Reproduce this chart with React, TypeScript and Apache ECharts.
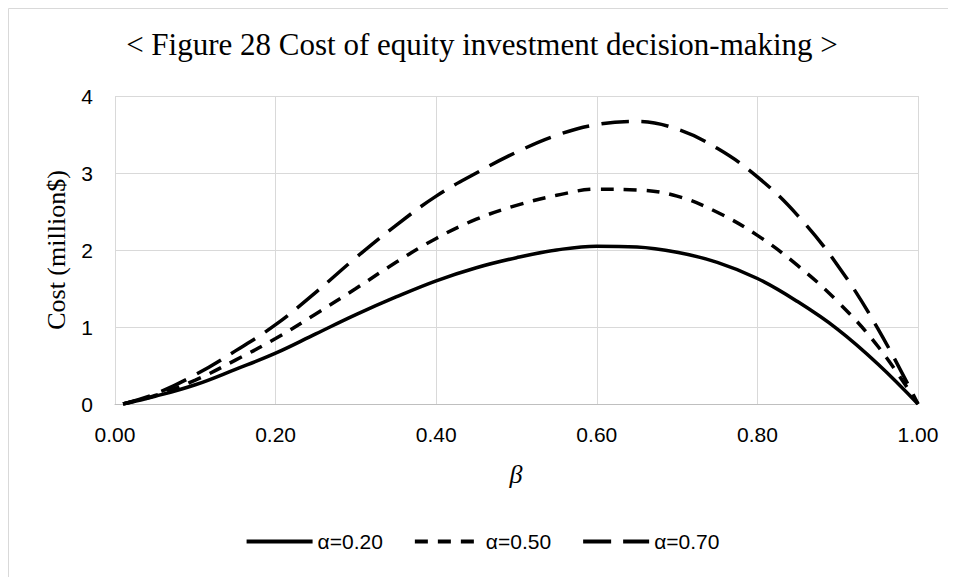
import React, { useEffect, useRef } from "react";
import * as echarts from "echarts";

const betas = [0.01, 0.05, 0.1, 0.15, 0.2, 0.25, 0.3, 0.35, 0.4, 0.45, 0.5, 0.55, 0.6, 0.65, 0.7, 0.75, 0.8, 0.85, 0.9, 0.95, 1.0];
const alpha020 = [0, 0.1, 0.25, 0.45, 0.66, 0.91, 1.16, 1.39, 1.6, 1.77, 1.9, 2.0, 2.05, 2.04, 1.97, 1.84, 1.63, 1.33, 0.97, 0.52, 0];
const alpha050 = [0, 0.11, 0.31, 0.57, 0.85, 1.17, 1.5, 1.84, 2.15, 2.4, 2.58, 2.71, 2.79, 2.78, 2.7, 2.49, 2.19, 1.8, 1.33, 0.75, 0];
const alpha070 = [0, 0.13, 0.38, 0.69, 1.03, 1.45, 1.9, 2.32, 2.7, 3.0, 3.27, 3.49, 3.63, 3.67, 3.57, 3.32, 2.95, 2.45, 1.8, 0.98, 0];
const seriesNames = ["α=0.20", "α=0.50", "α=0.70"];
const xTicks = [0, 0.2, 0.4, 0.6, 0.8, 1.0];
const yTicks = [0, 1, 2, 3, 4];

const sans = "'Liberation Sans', Arial, sans-serif";
const serif = "'Liberation Serif', 'Times New Roman', serif";

export default function App() {
  const ref = useRef<HTMLDivElement>(null);
  useEffect(() => {
    if (!ref.current) return;
    const chart = echarts.init(ref.current, undefined, { renderer: "svg" });
    const pairs = (ys: number[]) => betas.map((b, i) => [b, ys[i]]);
    const dashes: any[] = ["solid", [13, 10], [28, 12]];
    const data = [alpha020, alpha050, alpha070];
    chart.setOption({
      animation: false,
      backgroundColor: "#ffffff",
      title: {
        text: "< Figure 28 Cost of equity investment decision-making >",
        left: "center",
        top: 21,
        padding: 0,
        textStyle: { fontFamily: serif, fontSize: 31, fontWeight: "normal", color: "#000000" },
      },
      grid: { left: 107, top: 88, width: 803, height: 308, containLabel: false },
      legend: {
        top: 518,
        left: "center",
        itemWidth: 66,
        itemHeight: 20,
        itemGap: 30,
        itemStyle: { opacity: 0 },
        lineStyle: { width: 4 },
        textStyle: { fontFamily: sans, fontSize: 21, color: "#000000" },
        data: seriesNames,
      },
      xAxis: {
        type: "value",
        min: xTicks[0],
        max: xTicks[xTicks.length - 1],
        interval: 0.2,
        axisLine: { show: true, lineStyle: { color: "#bfbfbf", width: 1 } },
        axisTick: { show: false },
        axisLabel: {
          margin: 20,
          fontFamily: sans,
          fontSize: 21,
          color: "#000000",
          formatter: (v: number) => v.toFixed(2),
        },
        splitLine: { show: true, lineStyle: { color: "#d9d9d9", width: 1 } },
      },
      yAxis: {
        type: "value",
        min: yTicks[0],
        max: yTicks[yTicks.length - 1],
        interval: 1,
        name: "Cost (million$)",
        nameLocation: "middle",
        nameGap: 46,
        nameTextStyle: { fontFamily: serif, fontSize: 26, color: "#000000" },
        axisLine: { show: false },
        axisTick: { show: false },
        axisLabel: { margin: 22, fontFamily: sans, fontSize: 21, color: "#000000" },
        splitLine: { show: true, lineStyle: { color: "#d9d9d9", width: 1 } },
      },
      graphic: [
        {
          type: "rect",
          shape: { x: 0.5, y: 0.5, width: 1200, height: 1200 },
          style: { fill: "none", stroke: "#d9d9d9", lineWidth: 1 },
          silent: true,
          z: -10,
        },
        {
          type: "text",
          x: 508,
          y: 466,
          style: {
            text: "β",
            fontFamily: serif,
            fontStyle: "italic",
            fontSize: 26,
            fill: "#000000",
            textAlign: "center",
            textVerticalAlign: "middle",
          },
        },
      ],
      series: seriesNames.map((name, i) => ({
        name,
        type: "line",
        data: pairs(data[i]),
        smooth: 0.4,
        symbol: "none",
        showSymbol: false,
        lineStyle: { color: "#000000", width: 3.5, type: dashes[i], cap: "butt" },
        itemStyle: { color: "#000000" },
      })),
    });
    return () => chart.dispose();
  }, []);
  return <div ref={ref} style={{ width: 948, height: 569 }} />;
}
